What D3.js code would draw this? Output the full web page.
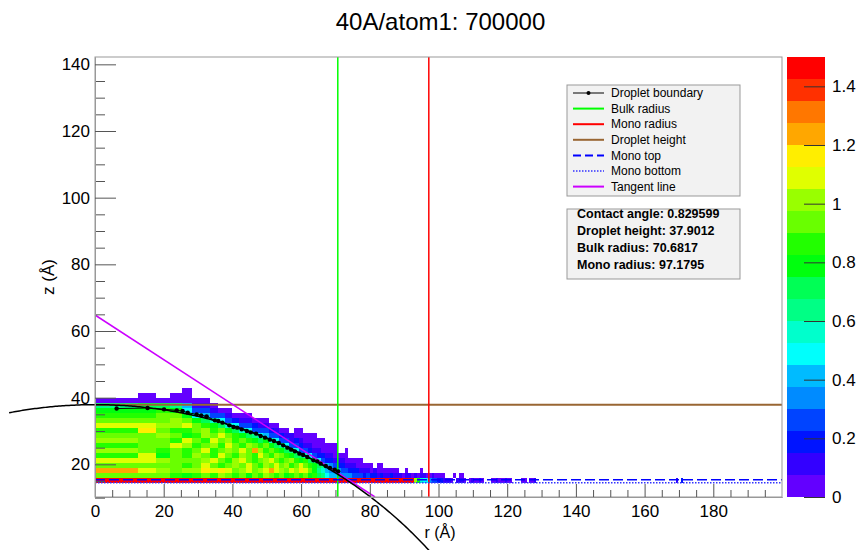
<!DOCTYPE html>
<html>
<head>
<meta charset="utf-8">
<script src="https://cdn.jsdelivr.net/npm/d3@7"></script>
<style>
  body { margin: 0; background: #fff; }
  text { font-family: "Liberation Sans", Arial, sans-serif; }
</style>
</head>
<body>
<div id="chart"></div>
<script>
// binning: equal-area radial bins (200 A / 250 bins), 1.5 A slabs in z
const rBinScale = 200 / Math.sqrt(250);
const zFirstEdge = 14.5;
const zBinSize = 1.5;

// colour palette, 20 bands over 0 .. 1.5
const paletteColors = ["#6300FF", "#3300FF", "#0014FF", "#0044FF", "#008BFF",
  "#00BBFF", "#00FFFC", "#00FFCC", "#00FF85", "#00FF55",
  "#00FF0E", "#22FF00", "#69FF00", "#99FF00", "#E0FF00",
  "#FFEE00", "#FFA700", "#FF7700", "#FF3000", "#FF0000"];
const paletteTicks = [0, 0.2, 0.4, 0.6, 0.8, 1, 1.2, 1.4];

// density band per cell, one string per z slab (row 0 = monolayer),
// one char per radial bin: '.' empty, 0-9 then a-j = band 0..19
const rowCodes = [
  "jjjjjjjjjjjjjjjjjjjjjjjjjjjjjjjjjjjjjjjjjjjjjjjjjjjjjj" + "da76643322" + "1110.1110." + "010010...0" + "01000100.." + "..000.001",
  "cccba" + "bcbdcbcacbdcbcabcbca" + "b98" + "655444" + "4333232212" + "1121110110" + "1011001000" + "0...0.00",
  "gedcd" + "dfefecdecdegedcedfec" + "a8754443322211101" + "0000000" + "..0....0",
  "ccccb" + "cecbcdcecbdcecdbcecba9" + "85432211100000.00",
  "eedcc" + "cdecbdecbcdecbcdbab9" + "8632211100000",
  "beacb" + "dcbecbdcbecbdcba9" + "976322110000",
  "dcbcb" + "cebcdcecgdbcba9" + "86332110000..0",
  "bcced" + "bcdbecbdcbca9" + "8633211000000",
  "dccbecbecdbcba9a763312100000",
  "ccdcabdcecba98653321100000",
  "bfcbbcdbca9763332100.00",
  "eeddecba9763321100",
  "cccdca9763211000",
  "bbcca65331000",
  "aaba633100",
  "89985110",
  "0000000",
  ".0.00",
  "....0"
];
// isolated cells far out on the monolayer: [row, bin, band]
const farCells = [[0, 179, 1], [0, 182, 2]];

// droplet boundary points
const boundaryR = [6.3, 15.3, 20.1, 23.8, 25.5, 27.0, 29.6, 30.9, 32.5, 34.9, 35.9, 37.1, 39.1,
  40.3, 41.4, 42.7, 44.2, 45.3, 46.9, 48.2, 49.5, 50.9, 52.1, 53.5, 54.8, 56.0, 57.1, 58.2,
  59.5, 60.6, 61.8, 63.6, 64.7, 65.7, 67.2, 68.4, 69.8, 70.8];
const boundaryZ = [36.75, 36.9, 36.5, 36.2, 36.0, 35.5, 35.0, 34.7, 34.4, 33.2, 33.0, 32.5, 31.7,
  31.2, 31.0, 30.5, 30.0, 29.6, 29.2, 28.5, 28.0, 27.4, 27.0, 26.4, 25.7, 25.0, 24.4, 23.9,
  23.2, 22.8, 22.2, 21.2, 20.9, 20.2, 19.5, 18.9, 18.4, 17.9];

const bulkRadius = 70.6817;
const monoRadius = 97.1795;
const dropletHeight = 37.9012;
const monoTop = 15.4;
const monoBottom = 14.5;
const tangentR = [0, 81.5];
const tangentZ = [64.8, 10.2];
// circle fit of the boundary (centre on the axis)
const fitCenterZ = -92.1;
const fitRadius = 130;
const fitRange = [-25, 98];

const xTicks = [0, 20, 40, 60, 80, 100, 120, 140, 160, 180];
const yTicks = [20, 40, 60, 80, 100, 120, 140];

const legendItems = [
  { label: "Droplet boundary", color: "#000", dash: null, width: 1, marker: true },
  { label: "Bulk radius", color: "#00FF00", dash: null, width: 2 },
  { label: "Mono radius", color: "#FF0000", dash: null, width: 2 },
  { label: "Droplet height", color: "#996633", dash: null, width: 2 },
  { label: "Mono top", color: "#0000FF", dash: "8,4", width: 2 },
  { label: "Mono bottom", color: "#3333FF", dash: "1.5,1.5", width: 1.5 },
  { label: "Tangent line", color: "#CC00FF", dash: null, width: 2 }
];
const infoLines = ["Contact angle: 0.829599", "Droplet height: 37.9012",
  "Bulk radius: 70.6817", "Mono radius: 97.1795"];

const width = 857, height = 550;
const frame = { left: 95, right: 782, top: 57, bottom: 497 };

const svg = d3.select("#chart").append("svg")
  .attr("width", width)
  .attr("height", height);

svg.append("defs").append("clipPath").attr("id", "frame-clip")
  .append("rect")
  .attr("x", frame.left).attr("y", frame.top)
  .attr("width", frame.right - frame.left).attr("height", frame.bottom - frame.top);

const x = d3.scaleLinear().domain([0, 200]).range([frame.left, frame.right]);
const y = d3.scaleLinear().domain([10.2, 142.2]).range([frame.bottom, frame.top]);
const color = d3.scaleQuantize().domain([0, 1.5]).range(paletteColors);
const bandValue = b => (b + 0.5) * 1.5 / paletteColors.length;

// Title
svg.append("text")
  .attr("x", 440.5).attr("y", 30)
  .attr("text-anchor", "middle")
  .style("font-size", "24px")
  .text("40A/atom1: 700000");

// Heat map cells
const cells = [];
rowCodes.forEach((code, k) => {
  [...code].forEach((ch, j) => {
    if (ch !== ".") cells.push({ k: k, j: j, v: bandValue(parseInt(ch, 36)) });
  });
});
farCells.forEach(([k, j, b]) => cells.push({ k: k, j: j, v: bandValue(b) }));

const rEdge = j => rBinScale * Math.sqrt(j);

const plot = svg.append("g").attr("clip-path", "url(#frame-clip)");

plot.selectAll(".cell")
  .data(cells)
  .enter()
  .append("rect")
  .attr("class", "cell")
  .attr("x", d => x(rEdge(d.j)))
  .attr("width", d => x(rEdge(d.j + 1)) - x(rEdge(d.j)))
  .attr("y", d => y(zFirstEdge + zBinSize * (d.k + 1)))
  .attr("height", d => y(zFirstEdge + zBinSize * d.k) - y(zFirstEdge + zBinSize * (d.k + 1)))
  .attr("fill", d => color(d.v))
  .attr("shape-rendering", "crispEdges");

// Reference lines
plot.append("line")
  .attr("x1", x(0)).attr("x2", x(200))
  .attr("y1", y(dropletHeight)).attr("y2", y(dropletHeight))
  .attr("stroke", "#996633").attr("stroke-width", 2);

plot.append("line")
  .attr("x1", x(bulkRadius)).attr("x2", x(bulkRadius))
  .attr("y1", frame.top).attr("y2", frame.bottom)
  .attr("stroke", "#00FF00").attr("stroke-width", 1.5);

plot.append("line")
  .attr("x1", x(monoRadius)).attr("x2", x(monoRadius))
  .attr("y1", frame.top).attr("y2", frame.bottom)
  .attr("stroke", "#FF0000").attr("stroke-width", 1.5);

plot.append("line")
  .attr("x1", x(0)).attr("x2", x(200))
  .attr("y1", y(monoTop)).attr("y2", y(monoTop))
  .attr("stroke", "#0000FF").attr("stroke-width", 1.5)
  .attr("stroke-dasharray", "10,4");

plot.append("line")
  .attr("x1", x(0)).attr("x2", x(200))
  .attr("y1", y(monoBottom)).attr("y2", y(monoBottom))
  .attr("stroke", "#3333FF").attr("stroke-width", 1.5)
  .attr("stroke-dasharray", "1.5,1.5");

plot.append("line")
  .attr("x1", x(tangentR[0])).attr("x2", x(tangentR[1]))
  .attr("y1", y(tangentZ[0])).attr("y2", y(tangentZ[1]))
  .attr("stroke", "#CC00FF").attr("stroke-width", 1.5);

// Boundary graph
const boundary = boundaryR.map((r, i) => [r, boundaryZ[i]]);
plot.append("path")
  .datum(boundary)
  .attr("fill", "none")
  .attr("stroke", "#000")
  .attr("stroke-width", 1)
  .attr("d", d3.line().x(d => x(d[0])).y(d => y(d[1])));

plot.selectAll(".pt")
  .data(boundary)
  .enter()
  .append("circle")
  .attr("class", "pt")
  .attr("cx", d => x(d[0]))
  .attr("cy", d => y(d[1]))
  .attr("r", 2.2)
  .attr("fill", "#000");

// Circle fit (not clipped, as in the original)
const fitPts = d3.range(fitRange[0], fitRange[1] + 0.01, 0.5)
  .map(r => [r, fitCenterZ + Math.sqrt(fitRadius * fitRadius - r * r)]);
svg.append("path")
  .datum(fitPts)
  .attr("fill", "none")
  .attr("stroke", "#000")
  .attr("stroke-width", 1.5)
  .attr("d", d3.line().x(d => x(d[0])).y(d => y(d[1])));

// Frame
svg.append("rect")
  .attr("x", frame.left).attr("y", frame.top)
  .attr("width", frame.right - frame.left).attr("height", frame.bottom - frame.top)
  .attr("fill", "none")
  .attr("stroke", "#999");

// Axes
const xMinor = d3.range(0, 201, 5).filter(v => v % 20 !== 0);
const yMinor = d3.range(10, 142, 5).filter(v => v % 20 !== 0);

svg.append("g")
  .attr("transform", `translate(0,${frame.bottom})`)
  .call(d3.axisBottom(x).tickValues(xMinor).tickSize(-7).tickSizeOuter(0).tickFormat(""));
svg.append("g")
  .attr("transform", `translate(0,${frame.bottom})`)
  .call(d3.axisBottom(x).tickValues(xTicks).tickSize(-13).tickSizeOuter(0).tickPadding(8))
  .selectAll("text")
  .style("font-size", "17px")
  .style("fill", "black");

svg.append("g")
  .attr("transform", `translate(${frame.left},0)`)
  .call(d3.axisLeft(y).tickValues(yMinor).tickSize(-10).tickSizeOuter(0).tickFormat(""));
svg.append("g")
  .attr("transform", `translate(${frame.left},0)`)
  .call(d3.axisLeft(y).tickValues(yTicks).tickSize(-21).tickSizeOuter(0).tickPadding(5))
  .selectAll("text")
  .style("font-size", "17px")
  .style("fill", "black");

svg.selectAll(".tick line").style("stroke", "#555");
svg.selectAll(".domain").style("stroke", "#999");

svg.append("text")
  .attr("x", 440).attr("y", 538)
  .attr("text-anchor", "middle")
  .style("font-size", "16px")
  .text("r (Å)");

svg.append("text")
  .attr("transform", "translate(54,277) rotate(-90)")
  .attr("text-anchor", "middle")
  .style("font-size", "17px")
  .text("z (Å)");

// Palette
const pal = { left: 787, right: 825 };
const zc = d3.scaleLinear().domain([0, 1.5]).range([frame.bottom, frame.top]);
const bandStep = 1.5 / paletteColors.length;
svg.append("g").selectAll("rect")
  .data(paletteColors)
  .enter()
  .append("rect")
  .attr("x", pal.left)
  .attr("width", pal.right - pal.left)
  .attr("y", (c, i) => zc((i + 1) * bandStep))
  .attr("height", (c, i) => zc(i * bandStep) - zc((i + 1) * bandStep))
  .attr("fill", c => c)
  .attr("shape-rendering", "crispEdges");

const palAxis = svg.append("g")
  .attr("transform", `translate(${pal.right},0)`)
  .call(d3.axisRight(zc).tickValues(paletteTicks).tickSize(-21).tickSizeOuter(0).tickPadding(7)
    .tickFormat(d3.format("~g")));
palAxis.select(".domain").remove();
palAxis.selectAll(".tick line").style("stroke", "#333");
palAxis.selectAll("text").style("font-size", "17px").style("fill", "black");

// Legend
const leg = svg.append("g");
leg.append("rect")
  .attr("x", 567).attr("y", 85).attr("width", 173).attr("height", 111)
  .attr("fill", "#F2F2F2").attr("stroke", "#999");

legendItems.forEach((it, i) => {
  const cy = 93 + i * 15.6;
  leg.append("line")
    .attr("x1", 573).attr("x2", 604)
    .attr("y1", cy).attr("y2", cy)
    .attr("stroke", it.color)
    .attr("stroke-width", it.width)
    .attr("stroke-dasharray", it.dash);
  if (it.marker) {
    leg.append("circle").attr("cx", 588.5).attr("cy", cy).attr("r", 2).attr("fill", "#000");
  }
  leg.append("text")
    .attr("x", 611).attr("y", cy)
    .attr("dy", "0.35em")
    .style("font-size", "12px")
    .text(it.label);
});

// Fit info box
const info = svg.append("g");
info.append("rect")
  .attr("x", 567).attr("y", 209).attr("width", 173).attr("height", 70)
  .attr("fill", "#F2F2F2").attr("stroke", "#999");

infoLines.forEach((t, i) => {
  info.append("text")
    .attr("x", 577).attr("y", 213.5 + i * 17)
    .attr("dy", "0.35em")
    .style("font-size", "12.5px")
    .style("font-weight", "bold")
    .text(t);
});
</script>
</body>
</html>
